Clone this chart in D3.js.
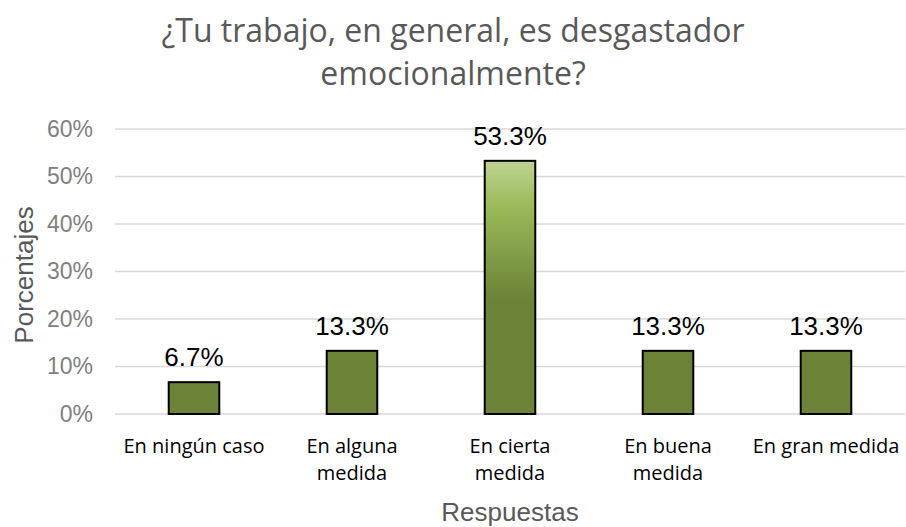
<!DOCTYPE html>
<html>
<head>
<meta charset="utf-8">
<script src="https://cdn.jsdelivr.net/npm/d3@7"></script>
<style>
  body { margin: 0; background: #fff; }
</style>
</head>
<body>
<svg id="chart"></svg>
<script>

// chart data
var categories = [['En ningún caso'], ['En alguna', 'medida'], ['En cierta', 'medida'], ['En buena', 'medida'], ['En gran medida']];
var values = [6.7, 13.3, 53.3, 13.3, 13.3];
var yTicks = [0, 10, 20, 30, 40, 50, 60];
var titleLines = ['¿Tu trabajo, en general, es desgastador', 'emocionalmente?'];

var width = 906, height = 527;
var margin = {top: 129, right: 1, bottom: 113, left: 115};

var svg = d3.select('#chart')
	.attr('width', width)
	.attr('height', height);

// gradient across the plot area
var defs = svg.append('defs');
var grad = defs.append('linearGradient')
	.attr('id', 'barGrad')
	.attr('gradientUnits', 'userSpaceOnUse')
	.attr('x1', 0).attr('x2', 0)
	.attr('y1', 155).attr('y2', 300);
grad.append('stop').attr('offset', '0%').attr('stop-color', '#c3d69b');
grad.append('stop').attr('offset', '35%').attr('stop-color', '#9bbb59');
grad.append('stop').attr('offset', '100%').attr('stop-color', '#6b8237');

var x = d3.scaleBand()
	.domain(d3.range(categories.length))
	.range([margin.left, width - margin.right])
	.paddingInner(0.68)
	.paddingOuter(0.34);

var y = d3.scaleLinear()
	.domain([0, 60])
	.range([height - margin.bottom, margin.top]);

// gridlines
svg.append('g')
	.selectAll('line')
	.data(yTicks)
	.enter()
	.append('line')
		.attr('x1', margin.left)
		.attr('x2', width - margin.right)
		.attr('y1', function(d){ return y(d) })
		.attr('y2', function(d){ return y(d) })
		.style('stroke', '#d9d9d9')
		.style('stroke-width', 1.5);

// y axis
var yAxis = svg.append('g')
	.attr('transform', 'translate(' + (margin.left - 22) + ',0)')
	.call(d3.axisLeft(y).tickValues(yTicks).tickSize(0).tickFormat(function(d){ return d + '%' }));
yAxis.select('.domain').remove();
yAxis.selectAll('text')
	.attr('x', 0)
	.style('font-family', '"Liberation Sans", Arial, sans-serif')
	.style('font-size', '23px')
	.style('fill', '#808080');

// bars
svg.append('g')
	.selectAll('rect')
	.data(values)
	.enter()
	.append('rect')
		.attr('x', function(d, i){ return x(i) })
		.attr('y', function(d){ return y(d) })
		.attr('width', x.bandwidth())
		.attr('height', function(d){ return y(0) - y(d) })
		.style('fill', 'url(#barGrad)')
		.style('stroke', '#000')
		.style('stroke-width', 2);

// value labels
svg.append('g')
	.selectAll('text')
	.data(values)
	.enter()
	.append('text')
		.attr('x', function(d, i){ return x(i) + x.bandwidth() / 2 })
		.attr('y', function(d){ return y(d) - 16 })
		.attr('text-anchor', 'middle')
		.style('font-family', '"Liberation Sans", Arial, sans-serif')
		.style('font-size', '26px')
		.style('fill', '#000')
		.text(function(d){ return d.toFixed(1) + '%' });

// category labels
var catText = svg.append('g')
	.selectAll('text')
	.data(categories)
	.enter()
	.append('text')
		.attr('x', function(d, i){ return x(i) + x.bandwidth() / 2 })
		.attr('y', 453)
		.attr('text-anchor', 'middle')
		.style('font-family', '"Open Sans", sans-serif')
		.style('font-size', '20px')
		.style('fill', '#000');
catText.selectAll('tspan')
	.data(function(d){ return d })
	.enter()
	.append('tspan')
		.attr('x', function(){ return d3.select(this.parentNode).attr('x') })
		.attr('dy', function(d, i){ return i ? 27 : 0 })
		.text(function(d){ return d });

// axis titles
svg.append('text')
	.attr('x', 510)
	.attr('y', 521)
	.attr('text-anchor', 'middle')
	.style('font-family', '"Liberation Sans", Arial, sans-serif')
	.style('font-size', '26px')
	.style('fill', '#595959')
	.text('Respuestas');

svg.append('text')
	.attr('transform', 'translate(33,275) rotate(-90)')
	.attr('text-anchor', 'middle')
	.style('font-family', '"Liberation Sans", Arial, sans-serif')
	.style('font-size', '26px')
	.style('fill', '#595959')
	.text('Porcentajes');

// title
svg.append('g')
	.selectAll('text')
	.data(titleLines)
	.enter()
	.append('text')
		.attr('x', 453)
		.attr('y', function(d, i){ return 42 + i * 43 })
		.attr('text-anchor', 'middle')
		.style('font-family', '"Open Sans", sans-serif')
		.style('font-size', '32px')
		.style('fill', '#595959')
		.text(function(d){ return d });

</script>
</body>
</html>
